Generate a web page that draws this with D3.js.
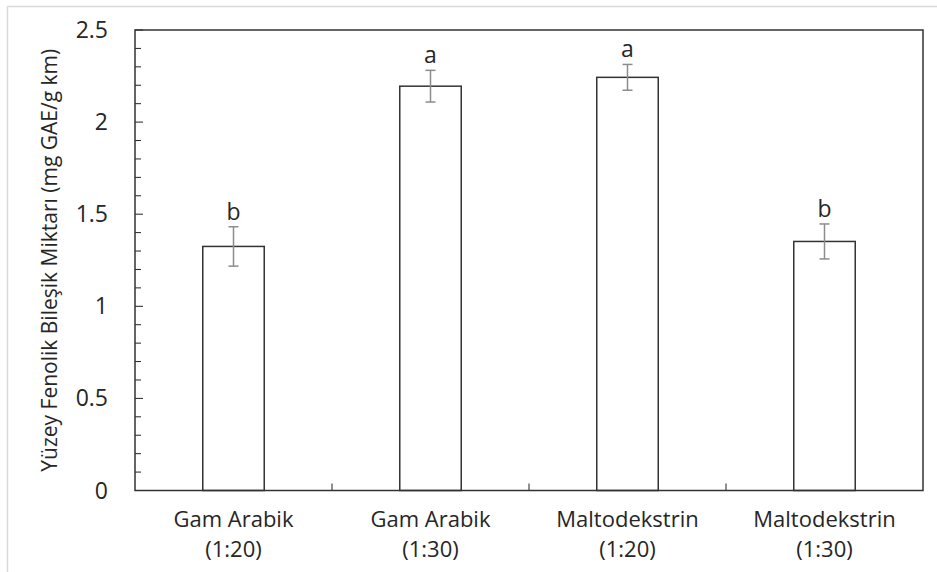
<!DOCTYPE html>
<html>
<head>
<meta charset="utf-8">
<script src="https://cdn.jsdelivr.net/npm/d3@7"></script>
<style>
  body { margin: 0; background: #fff; }
  text { font-family: "Open Sans", sans-serif; fill: #262626; }
</style>
</head>
<body>
<svg id="chart"></svg>
<script>
const categories = [["Gam Arabik", "(1:20)"], ["Gam Arabik", "(1:30)"], ["Maltodekstrin", "(1:20)"], ["Maltodekstrin", "(1:30)"]];
const means = [1.325, 2.195, 2.243, 1.352];
const errors = [0.107, 0.086, 0.07, 0.095];
const letters = ["b", "a", "a", "b"];
const yTicks = [0, 0.5, 1, 1.5, 2, 2.5];

const W = 937, H = 572;
const margin = {top: 30, right: 14, bottom: 81.5, left: 135};
const width = W - margin.left - margin.right,
    height = H - margin.top - margin.bottom;

const root = d3.select("#chart").attr("width", W).attr("height", H);

// light frame round the whole chart
root.append("rect")
    .attr("x", 7.5).attr("y", 6.5)
    .attr("width", W).attr("height", H)
    .attr("fill", "none").attr("stroke", "#d9d9d9").attr("stroke-width", 1.5);

const svg = root.append("g")
    .attr("transform", `translate(${margin.left}, ${margin.top})`);

const keys = categories.map((d, i) => i);
const x = d3.scaleBand().domain(keys).range([0, width]).paddingInner(0).paddingOuter(0);
const y = d3.scaleLinear().domain([0, 2.5]).range([height, 0]);
const barW = x.bandwidth() * 0.312;

// minor ticks every 0.1 inside the plot
svg.append("g")
    .selectAll("line")
    .data(d3.range(0, 26).map(d => d / 10))
    .enter().append("line")
    .attr("x1", 0)
    .attr("x2", d => (Math.round(d * 10) % 5 === 0) ? 8 : 6)
    .attr("y1", d => y(d)).attr("y2", d => y(d))
    .attr("stroke", "#222").attr("stroke-width", 1);

// y axis labels
svg.append("g")
    .selectAll("text")
    .data(yTicks)
    .enter().append("text")
    .attr("x", -27)
    .attr("y", d => y(d))
    .attr("dy", "0.35em")
    .attr("text-anchor", "end")
    .style("font-size", "23px")
    .text(d => d);

// category boundary ticks on the x axis
svg.append("g")
    .selectAll("line")
    .data(keys.slice(1))
    .enter().append("line")
    .attr("x1", d => x(d)).attr("x2", d => x(d))
    .attr("y1", height).attr("y2", height - 7)
    .attr("stroke", "#222").attr("stroke-width", 1);

// bars
svg.append("g")
    .selectAll("rect")
    .data(means)
    .enter().append("rect")
    .attr("x", (d, i) => x(i) + x.bandwidth() / 2 - barW / 2)
    .attr("y", d => y(d))
    .attr("width", barW)
    .attr("height", d => height - y(d))
    .attr("fill", "#fff")
    .attr("stroke", "#333").attr("stroke-width", 1.5);

// error bars
const err = svg.append("g").attr("stroke", "#8c8c8c").attr("stroke-width", 1.5);
means.forEach((m, i) => {
    const cx = x(i) + x.bandwidth() / 2;
    err.append("line").attr("x1", cx).attr("x2", cx)
        .attr("y1", y(m - errors[i])).attr("y2", y(m + errors[i]));
    [m - errors[i], m + errors[i]].forEach(v => {
        err.append("line").attr("x1", cx - 5).attr("x2", cx + 5)
            .attr("y1", y(v)).attr("y2", y(v));
    });
});

// significance letters
svg.append("g")
    .selectAll("text")
    .data(letters)
    .enter().append("text")
    .attr("x", (d, i) => x(i) + x.bandwidth() / 2)
    .attr("y", (d, i) => y(means[i] + errors[i]) - 7)
    .attr("text-anchor", "middle")
    .style("font-size", "23px")
    .text(d => d);

// plot frame
svg.append("rect")
    .attr("x", 0).attr("y", 0)
    .attr("width", width).attr("height", height)
    .attr("fill", "none").attr("stroke", "#333").attr("stroke-width", 1.5);

// category labels, two lines each
[0, 1].forEach(line => {
    svg.append("g")
        .selectAll("text")
        .data(categories)
        .enter().append("text")
        .attr("x", (d, i) => x(i) + x.bandwidth() / 2)
        .attr("y", height + 36 + line * 30.5)
        .attr("text-anchor", "middle")
        .style("font-size", "22px")
        .text(d => d[line]);
});

// y axis title
svg.append("text")
    .text("Yüzey Fenolik Bileşik Miktarı (mg GAE/g km)")
    .attr("transform", `translate(${-78}, ${height / 2}) rotate(-90)`)
    .attr("text-anchor", "middle")
    .style("font-size", "21px");
</script>
</body>
</html>
